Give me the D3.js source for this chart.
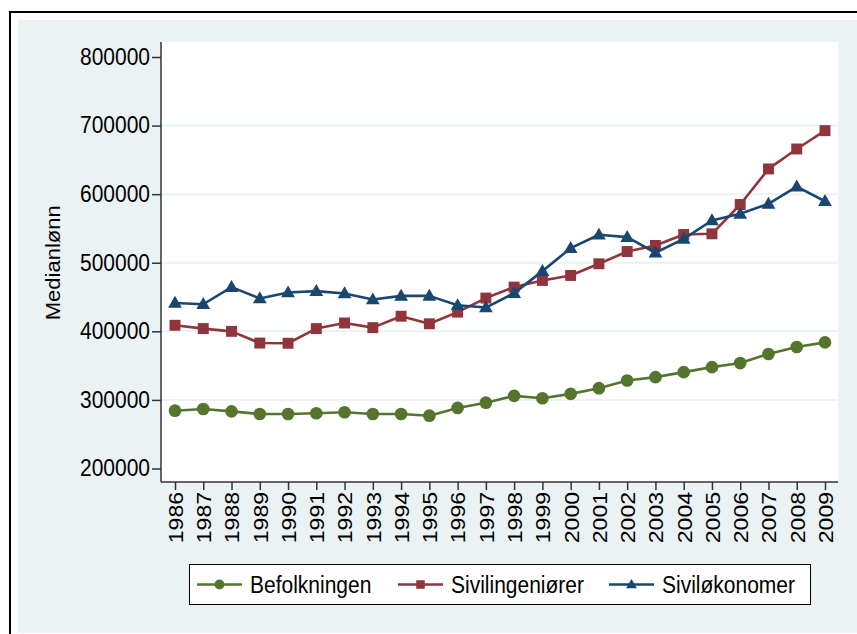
<!DOCTYPE html>
<html>
<head>
<meta charset="utf-8">
<script src="https://cdn.jsdelivr.net/npm/d3@7/dist/d3.min.js"></script>
<style>
  html, body { margin: 0; padding: 0; background: #ffffff; }
  svg { display: block; }
  text { font-family: "Liberation Sans", Arial, sans-serif; fill: #000; }
</style>
</head>
<body>
<svg id="chart" width="857" height="634"></svg>
<script>
const years = [1986,1987,1988,1989,1990,1991,1992,1993,1994,1995,1996,1997,1998,1999,2000,2001,2002,2003,2004,2005,2006,2007,2008,2009];
const befolkningen = [284300,286800,283300,279500,279500,280500,282000,279500,279500,277000,288300,296000,305900,302500,308800,317100,328300,333200,340500,347800,353700,366900,377200,383900];
const sivilingeniorer = [408800,404000,400000,382900,382600,404000,412200,405400,422000,411000,428000,448500,464500,474200,481500,498500,516400,525200,541200,542200,584900,636800,665900,692600];
const silvilokonomer = [441400,439500,464500,447900,456600,458600,455200,446400,451700,451700,438000,434700,455700,487800,521300,540800,537300,514600,534900,561600,571300,585900,611100,589700];
const yTicks = [200000,300000,400000,500000,600000,700000,800000];
const gridTicks = [300000,400000,500000,600000,700000];
const seriesNames = ["Befolkningen","Sivilingeniører","Siviløkonomer"];
const seriesColors = ["#55752F","#90353B","#1A476F"];
const seriesMarkers = ["circle","square","triangle"];
const yTitle = "Medianlønn";

const series = [befolkningen, sivilingeniorer, silvilokonomer].map((vals, i) => ({
  name: seriesNames[i], color: seriesColors[i], marker: seriesMarkers[i],
  points: years.map((y, j) => ({year: y, value: vals[j]}))
}));

const svg = d3.select("#chart");
const font = "Liberation Sans, Arial, sans-serif";
const stretch = 1.1;

// outer frame + background
svg.append("rect").attr("x", 0).attr("y", 0).attr("width", 857).attr("height", 634).attr("fill", "#ffffff");
svg.append("rect").attr("x", 10).attr("y", 12).attr("width", 900).attr("height", 700)
  .attr("fill", "#ffffff").attr("stroke", "#000").attr("stroke-width", 2);
svg.append("rect").attr("x", 18).attr("y", 20).attr("width", 900).attr("height", 613).attr("fill", "#EAF2F3");

const plot = {left: 161, right: 838, top: 42, bottom: 482};
svg.append("rect").attr("x", plot.left).attr("y", plot.top)
  .attr("width", plot.right - plot.left).attr("height", plot.bottom - plot.top).attr("fill", "#ffffff");

const x = d3.scaleLinear().domain([1986, 2009]).range([175, 825]);
const y = d3.scaleLinear().domain([200000, 800000]).range([468.5, 57]);

// grid
svg.append("g").selectAll("line").data(gridTicks).join("line")
  .attr("x1", plot.left).attr("x2", plot.right)
  .attr("y1", d => y(d)).attr("y2", d => y(d))
  .attr("stroke", "#EAF2F3").attr("stroke-width", 2);

// y axis
const yAxis = svg.append("g").attr("transform", `translate(${plot.left},0)`)
  .call(d3.axisLeft(y).tickValues(yTicks).tickFormat(d3.format("d")).tickSize(9).tickPadding(2).tickSizeOuter(0));
yAxis.select(".domain").attr("d", `M0,${plot.top}V${plot.bottom}`).attr("stroke", "#333").attr("stroke-width", 1.5);
yAxis.selectAll(".tick line").attr("stroke", "#333").attr("stroke-width", 1.5);
yAxis.selectAll(".tick text").attr("font-size", 21).attr("font-family", font).attr("fill", "#000")
  .attr("transform", `scale(1,${stretch})`);

// x axis
const xAxis = svg.append("g").attr("transform", `translate(0,${plot.bottom})`)
  .call(d3.axisBottom(x).tickValues(years).tickFormat(d3.format("d")).tickSize(8).tickSizeOuter(0));
xAxis.select(".domain").attr("d", `M${plot.left},0H${plot.right}`).attr("stroke", "#333").attr("stroke-width", 1.5);
xAxis.selectAll(".tick line").attr("stroke", "#333").attr("stroke-width", 1.5);
xAxis.selectAll(".tick text")
  .attr("font-size", 21).attr("font-family", font).attr("fill", "#000")
  .attr("text-anchor", "end")
  .attr("transform", `scale(1,${stretch}) rotate(-90)`)
  .attr("x", -9).attr("y", 0).attr("dy", "0.35em");

// y title
svg.append("text").attr("transform", `translate(60,${y(500000)}) scale(1,${stretch}) rotate(-90)`)
  .attr("text-anchor", "middle").attr("font-size", 20).attr("font-family", font).text(yTitle);

function drawMarker(g, type, cx, cy, color, size) {
  if (type === "circle") {
    g.append("circle").attr("cx", cx).attr("cy", cy).attr("r", size * 0.55).attr("fill", color);
  } else if (type === "square") {
    const s = size * 0.95;
    g.append("rect").attr("x", cx - s / 2).attr("y", cy - s / 2).attr("width", s).attr("height", s).attr("fill", color);
  } else {
    const w = size * 1.2, h = size * 1.0;
    g.append("path").attr("d", `M${cx},${cy - h * 0.62}L${cx + w / 2},${cy + h * 0.42}L${cx - w / 2},${cy + h * 0.42}Z`).attr("fill", color);
  }
}

const line = d3.line().x(d => x(d.year)).y(d => y(d.value));
series.forEach(s => {
  const g = svg.append("g");
  g.append("path").datum(s.points).attr("d", line).attr("fill", "none")
    .attr("stroke", s.color).attr("stroke-width", 2.6).attr("stroke-linejoin", "round");
  s.points.forEach(p => drawMarker(g, s.marker, x(p.year), y(p.value), s.color, 11.5));
});

// legend
const legend = svg.append("g");
legend.append("rect").attr("x", 189.5).attr("y", 564.5).attr("width", 621).attr("height", 40)
  .attr("fill", "#fff").attr("stroke", "#000").attr("stroke-width", 1);
const legendX = [197, 398, 609];
series.forEach((s, i) => {
  const lx = legendX[i], ly = 584.5;
  legend.append("line").attr("x1", lx).attr("x2", lx + 45).attr("y1", ly).attr("y2", ly)
    .attr("stroke", s.color).attr("stroke-width", 2.6);
  drawMarker(legend, s.marker, lx + 22.5, ly, s.color, 9);
  legend.append("text").attr("transform", `translate(${lx + 53},${ly}) scale(1,${stretch})`)
    .attr("dy", "0.36em")
    .attr("font-size", 21).attr("font-family", font).text(s.name);
});
</script>
</body>
</html>
